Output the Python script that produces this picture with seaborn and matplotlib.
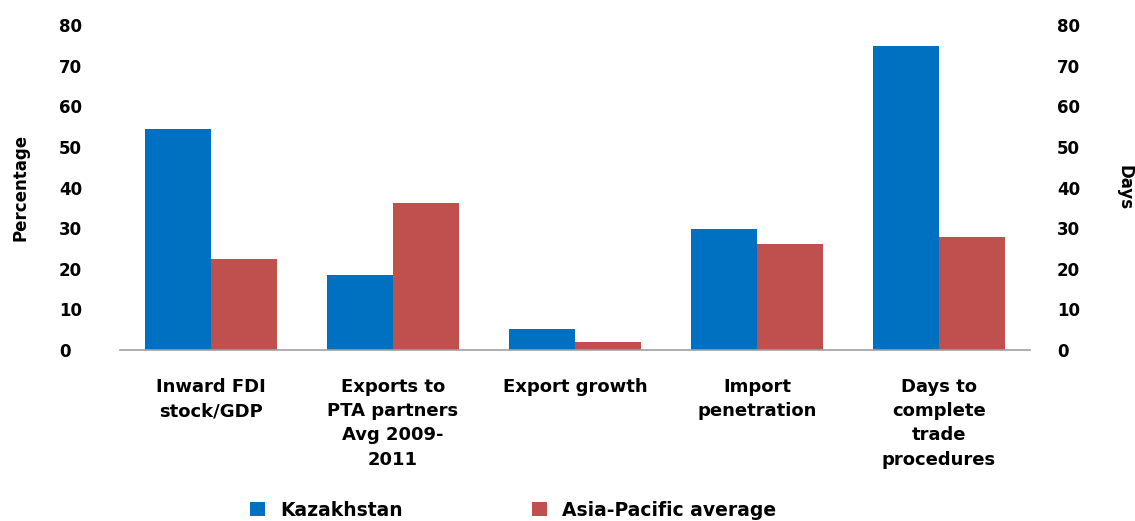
import pandas as pd
import matplotlib
matplotlib.use("Agg")
import matplotlib.pyplot as plt
import seaborn as sns

categories = ["Inward FDI\nstock/GDP", "Exports to\nPTA partners\nAvg 2009-\n2011",
              "Export growth", "Import\npenetration",
              "Days to\ncomplete\ntrade\nprocedures"]
kazakhstan = [54.3, 18.5, 5.3, 29.7, 74.9]
asia_pacific = [22.4, 36.1, 2.0, 26.2, 27.9]
series_names = ["Kazakhstan", "Asia-Pacific average"]
colors = ["#0070C0", "#C0504D"]

df = pd.DataFrame({
    "category": categories * 2,
    "value": kazakhstan + asia_pacific,
    "series": [series_names[0]] * 5 + [series_names[1]] * 5,
})

sns.set_style("white")
plt.rcParams["font.family"] = ["DejaVu Sans"]
plt.rcParams["text.color"] = "black"
plt.rcParams["xtick.color"] = "black"
plt.rcParams["ytick.color"] = "black"
plt.rcParams["axes.labelcolor"] = "black"

fig = plt.figure(figsize=(11.35, 5.21), dpi=100)
ax = fig.add_axes([0.1057, 0.328, 0.8018, 0.624])
sns.barplot(data=df, x="category", y="value", hue="series", palette=colors,
            width=0.73, saturation=1, linewidth=0, ax=ax, legend=True)

ax.set_ylim(0, 80)
ax.set_yticks(range(0, 81, 10))
ax.set_xlim(-0.5, 4.5)
ax.set_xlabel("")
ax.set_ylabel("Percentage", fontsize=12, fontweight="semibold")
ax.yaxis.set_label_coords(-0.099, 0.5)
for s in ["top", "right", "left"]:
    ax.spines[s].set_visible(False)
ax.spines["bottom"].set_color("#a0a0a0")
ax.spines["bottom"].set_linewidth(1.2)
ax.tick_params(axis="both", length=0)
ax.tick_params(axis="y", labelsize=12, pad=44)
for t in ax.get_yticklabels():
    t.set_fontweight("bold")
    t.set_horizontalalignment("left")
ax.tick_params(axis="x", labelsize=13, pad=20)
for t in ax.get_xticklabels():
    t.set_linespacing(1.45)
    t.set_fontweight("semibold")

ax2 = ax.twinx()
ax2.set_ylim(0, 80)
ax2.set_yticks(range(0, 81, 10))
for s in ["top", "right", "left", "bottom"]:
    ax2.spines[s].set_visible(False)
ax2.tick_params(axis="y", length=0, labelsize=12, pad=19.5)
for t in ax2.get_yticklabels():
    t.set_fontweight("bold")
ax2.set_ylabel("Days", fontsize=12, rotation=270, fontweight="bold", va="center")
ax2.yaxis.set_label_coords(1.104, 0.5)

handles, labels = ax.get_legend_handles_labels()
ax.legend_.remove()
fig.legend(handles, labels, loc="lower center", bbox_to_anchor=(0.452, -0.03),
           ncol=2, frameon=False, handlelength=0.8, handleheight=0.8,
           columnspacing=6.9, prop={"weight": "bold", "size": 13.5})

fig.savefig("out.png", dpi=100)
